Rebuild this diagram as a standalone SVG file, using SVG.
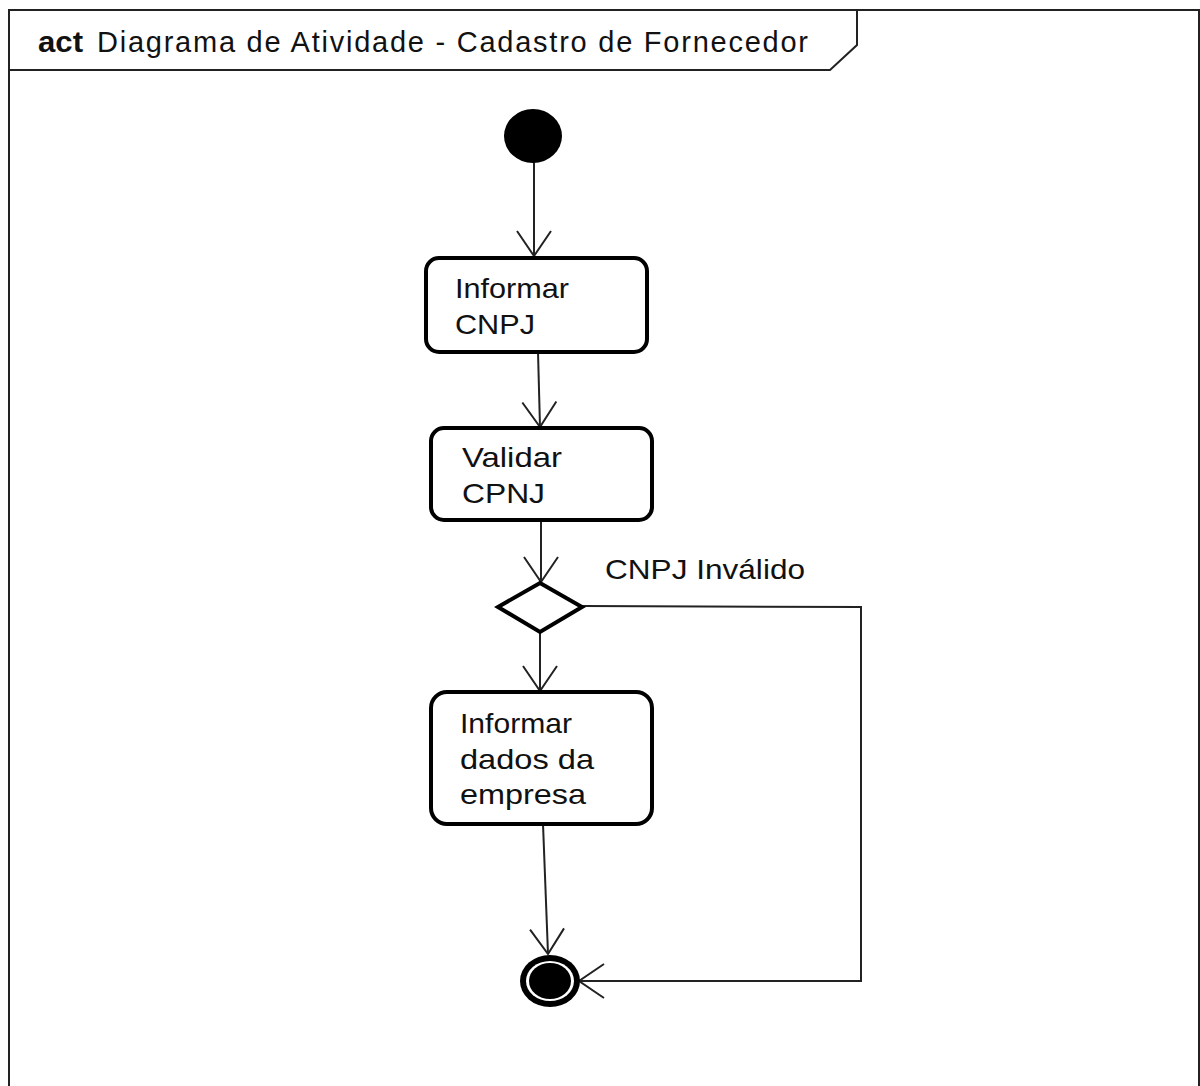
<svg xmlns="http://www.w3.org/2000/svg" width="1200" height="1086" viewBox="0 0 1200 1086">
  <style>
    .frame { fill: none; stroke: #222; stroke-width: 2; }
    .action { fill: #fff; stroke: #000; stroke-width: 4; }
    .decision { fill: #fff; stroke: #000; stroke-width: 4; stroke-linejoin: miter; }
    .flow { fill: none; stroke: #222; stroke-width: 2; }
    .lbl { font-family: "Liberation Sans", Arial, sans-serif; font-size: 28px; fill: #111; }
    .title { font-family: "Liberation Sans", Arial, sans-serif; font-size: 29px; fill: #111; }
  </style>
  <defs>
    <marker id="open-arrow" markerUnits="userSpaceOnUse" markerWidth="40" markerHeight="40" viewBox="-30 -20 34 40" refX="0" refY="0" orient="auto">
      <path d="M -25 -17 L 0 0 L -25 17" fill="none" stroke="#222" stroke-width="2"/>
    </marker>
  </defs>

  <rect width="1200" height="1086" fill="#fff"/>

  <!-- diagram frame with name tab -->
  <g id="frame">
    <path class="frame" d="M 9 1090 L 9 10 L 1199 10 L 1199 1090"/>
    <path class="frame" d="M 9 70 L 830 70 L 857 45 L 857 10"/>
    <text class="title" x="38" y="52"><tspan font-weight="bold" textLength="45" lengthAdjust="spacingAndGlyphs">act</tspan></text>
    <text class="title" x="97" y="52" textLength="711" lengthAdjust="spacing">Diagrama de Atividade - Cadastro de Fornecedor</text>
  </g>

  <!-- connectors -->
  <g id="connectors">
    <path class="flow" d="M 534 162 L 534 256" marker-end="url(#open-arrow)"/>
    <path class="flow" d="M 538 352 L 540 427" marker-end="url(#open-arrow)"/>
    <path class="flow" d="M 541 521 L 541 582" marker-end="url(#open-arrow)"/>
    <path class="flow" d="M 540 632 L 540 691" marker-end="url(#open-arrow)"/>
    <path class="flow" d="M 543 824 L 548 954" marker-end="url(#open-arrow)"/>
    <path class="flow" d="M 582 606 L 861 607 L 861 981 L 579 981" marker-end="url(#open-arrow)"/>
    <text class="lbl" x="605" y="579" textLength="200" lengthAdjust="spacingAndGlyphs">CNPJ Inválido</text>
  </g>

  <!-- initial node -->
  <g id="initial">
    <ellipse cx="533" cy="136" rx="29" ry="27" fill="#000"/>
  </g>

  <!-- Informar CNPJ -->
  <g id="informar-cnpj">
    <rect class="action" x="426" y="258" width="221" height="94" rx="13" ry="13"/>
    <text class="lbl" x="455" y="298" textLength="114" lengthAdjust="spacingAndGlyphs">Informar</text>
    <text class="lbl" x="455" y="334" textLength="80" lengthAdjust="spacingAndGlyphs">CNPJ</text>
  </g>

  <!-- Validar CPNJ -->
  <g id="validar-cpnj">
    <rect class="action" x="431" y="428" width="221" height="92" rx="13" ry="13"/>
    <text class="lbl" x="462" y="467" textLength="100" lengthAdjust="spacingAndGlyphs">Validar</text>
    <text class="lbl" x="462" y="503" textLength="83" lengthAdjust="spacingAndGlyphs">CPNJ</text>
  </g>

  <!-- decision -->
  <g id="decision">
    <polygon class="decision" points="540,583 582,607 540,632 498,607"/>
  </g>

  <!-- Informar dados da empresa -->
  <g id="informar-dados">
    <rect class="action" x="431" y="692" width="221" height="132" rx="16" ry="16"/>
    <text class="lbl" x="460" y="733" textLength="112" lengthAdjust="spacingAndGlyphs">Informar</text>
    <text class="lbl" x="460" y="769" textLength="134" lengthAdjust="spacingAndGlyphs">dados da</text>
    <text class="lbl" x="460" y="804" textLength="126" lengthAdjust="spacingAndGlyphs">empresa</text>
  </g>

  <!-- final node -->
  <g id="final">
    <ellipse cx="550" cy="981" rx="30" ry="26" fill="#000"/>
    <ellipse cx="550" cy="981" rx="24" ry="20" fill="#fff"/>
    <ellipse cx="550" cy="981" rx="21" ry="18" fill="#000"/>
  </g>
</svg>
